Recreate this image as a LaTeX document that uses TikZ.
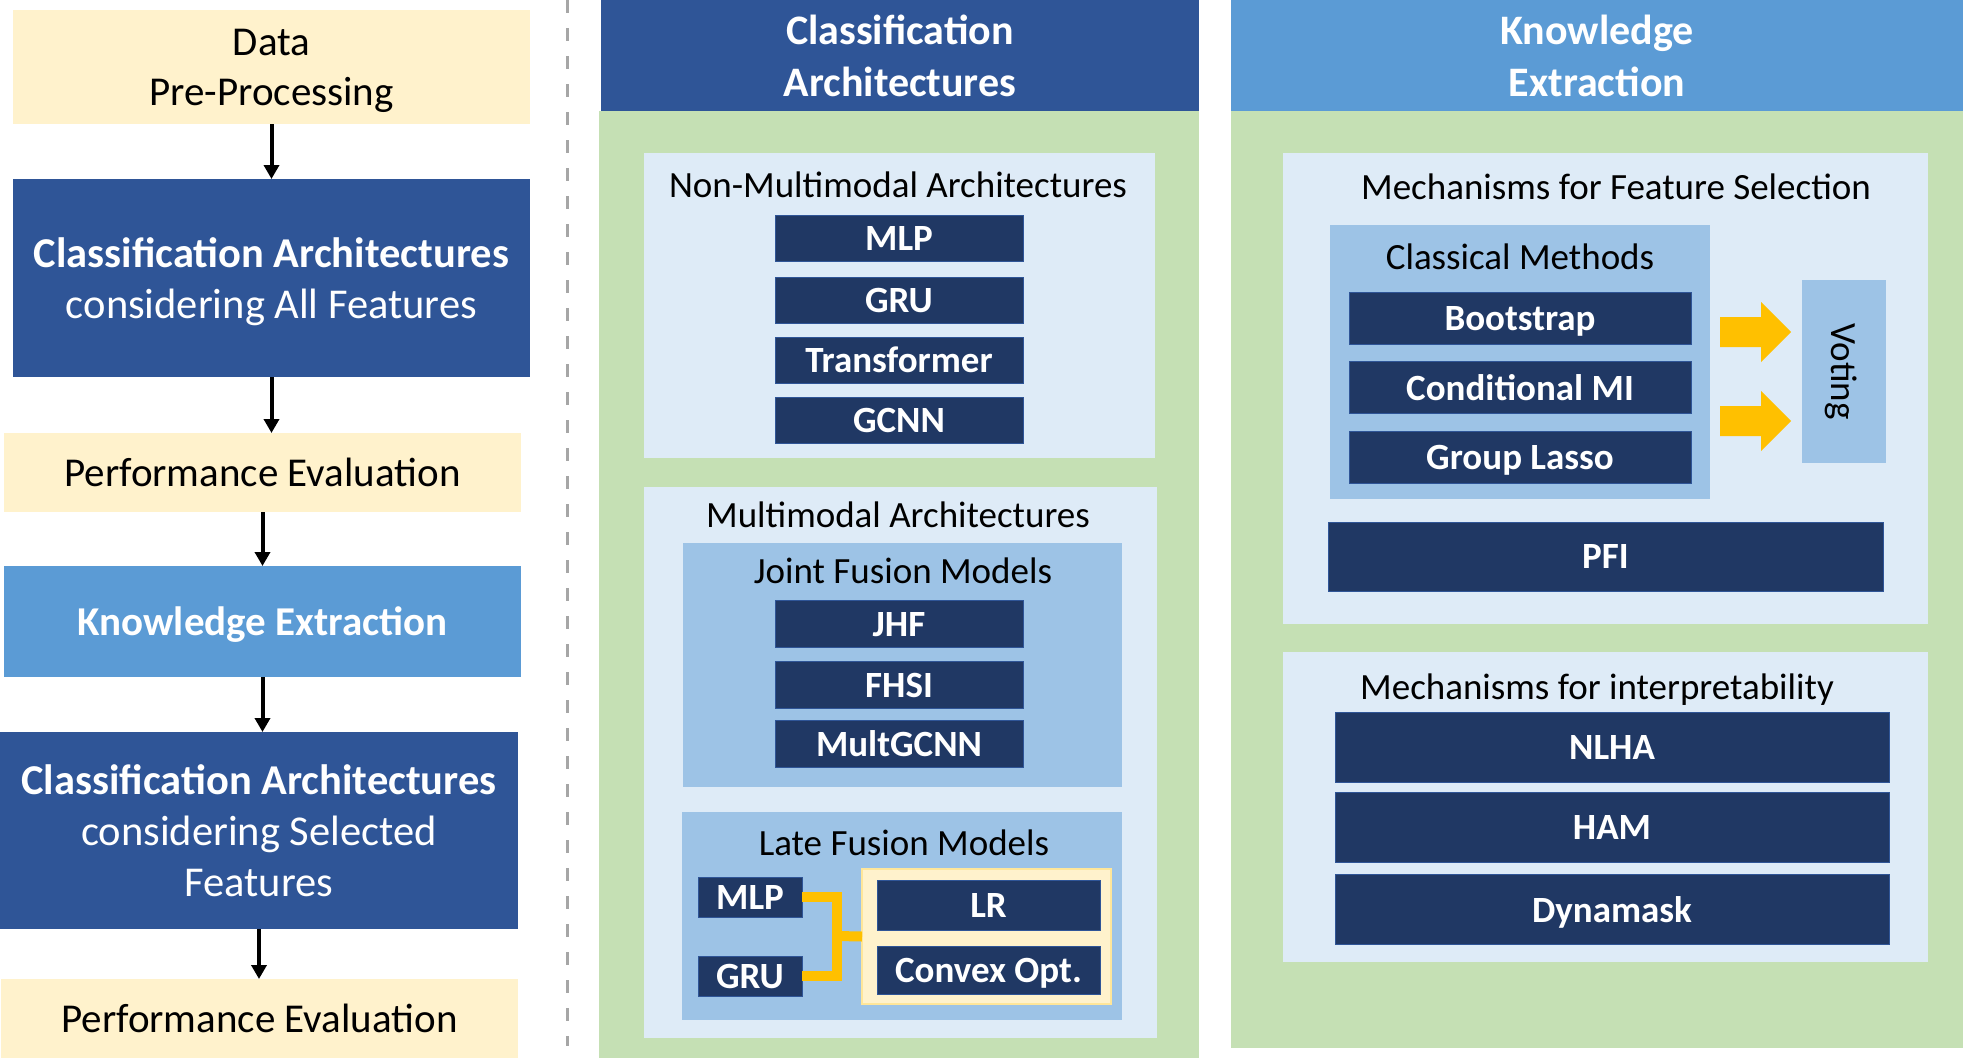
\documentclass[tikz,border=0pt]{standalone}
\usepackage{fontspec}
\setmainfont{Carlito}
\usetikzlibrary{arrows.meta}

\definecolor{cream}{HTML}{FFF2CC}
\definecolor{creamedge}{HTML}{FFE699}
\definecolor{darkblue}{HTML}{2F5597}
\definecolor{kblue}{HTML}{5B9BD5}
\definecolor{leaf}{HTML}{C5E0B4}
\definecolor{pale}{HTML}{DEEBF7}
\definecolor{mid}{HTML}{9DC3E6}
\definecolor{navyblue}{HTML}{203864}
\definecolor{gold}{HTML}{FFC000}

\tikzset{
  every node/.style={inner sep=0pt, outer sep=0pt, text depth=0pt},
  flow/.style={rectangle, align=center, minimum width=517, font=\fontsize{41}{50}\selectfont},
  beige/.style={flow, fill=cream, text=black},
  dark/.style={flow, fill=darkblue, text=white, font=\fontsize{42.5}{51}\selectfont},
  light/.style={flow, fill=kblue, text=white, font=\fontsize{41}{50}\selectfont\bfseries},
  head/.style={rectangle, align=center, text=white, font=\fontsize{42}{52}\selectfont\bfseries},
  caption/.style={rectangle, font=\fontsize{37}{44}\selectfont},
  modelbox/.style={rectangle, fill=navyblue, draw=darkblue, line width=1, text=white, font=\fontsize{37}{44}\selectfont\bfseries},
  arr/.style={-{Triangle[length=14pt,width=15pt]}, line width=4pt},
  goldline/.style={draw=gold, line width=10pt}
}

\begin{document}
\begin{tikzpicture}[x=1pt,y=-1pt]
\useasboundingbox (0,0) rectangle (1963,1058);

% workflow on the left
\node[beige, minimum height=114] (data) at (271.5,67) {Data\\Pre-Processing};
\node[dark, minimum height=198] (clsall) at (271.5,278) {{\bfseries Classification Architectures}\\considering All Features};
\node[beige, minimum height=79] (perfa) at (262.5,472.5) {Performance Evaluation};
\node[light, minimum height=111] (kea) at (262.5,621.5) {Knowledge Extraction};
\node[dark, minimum height=197, minimum width=518] (clssel) at (259,830.5) {{\bfseries Classification Architectures}\\considering Selected\\Features};
\node[beige, minimum height=79] (perfb) at (259.5,1018.5) {Performance Evaluation};

\draw[arr] (data) -- (clsall);
\draw[arr] (clsall.south) -- (clsall.south |- perfa.north);
\draw[arr] (perfa) -- (kea);
\draw[arr] (kea.south) -- (kea.south |- clssel.north);
\draw[arr] (clssel.south) -- (clssel.south |- perfb.north);

\draw[gray!70, line width=3pt, dash pattern=on 13pt off 15pt] (567,0) -- (567,1046);

% classification architectures
\node[head, fill=darkblue, minimum width=598, minimum height=111] (hdmid) at (900,55.5) {Classification\\Architectures};
\fill[leaf] (599,111) rectangle (1199,1058);

\fill[pale] (644,153) rectangle (1155,458);
\node[caption] (nonmm) at (898,185) {Non-Multimodal Architectures};
\foreach \name/\txt/\y in {mlpa/MLP/238, grua/GRU/300, trf/Transformer/360, gcnn/GCNN/420}
  \node[modelbox, minimum width=248, minimum height=46] (\name) at (899,\y) {\txt};

\fill[pale] (644,487) rectangle (1157,1038);
\node[caption] (mmtitle) at (898,515) {Multimodal Architectures};

\fill[mid] (683,543) rectangle (1122,787);
\node[caption] (joint) at (903,571) {Joint Fusion Models};
\foreach \name/\txt/\y in {jhf/JHF/624, fhsi/FHSI/685, multg/MultGCNN/744}
  \node[modelbox, minimum width=248, minimum height=47] (\name) at (899,\y) {\txt};

\fill[mid] (682,812) rectangle (1122,1020);
\node[caption] (late) at (904,843) {Late Fusion Models};
\node[modelbox, minimum width=104, minimum height=40] (mlpb) at (750,897) {MLP};
\node[modelbox, minimum width=104, minimum height=40] (grub) at (750,976) {GRU};
\node[rectangle, fill=cream, draw=creamedge, line width=2.5, minimum width=249, minimum height=135] (fuse) at (986.5,936.5) {};
\node[modelbox, minimum width=223, minimum height=50] (lr) at (988.5,905) {LR};
\node[modelbox, minimum width=223, minimum height=48] (cvx) at (988.5,970) {Convex Opt.};
\coordinate (jn) at (837,936);
\draw[goldline] (mlpb.east) -| (jn) |- (grub.east);
\draw[goldline] (jn) -- (fuse.west);

% knowledge extraction
\node[head, fill=kblue, minimum width=732, minimum height=111] (hdright) at (1597,55.5) {Knowledge\\Extraction};
\fill[leaf] (1231,111) rectangle (1963,1048);

\fill[pale] (1283,153) rectangle (1928,624);
\node[caption] (fstitle) at (1616,187) {Mechanisms for Feature Selection};
\fill[mid] (1330,225) rectangle (1710,499);
\node[caption] (classic) at (1520,257) {Classical Methods};
\foreach \name/\txt/\y in {boot/Bootstrap/318, cmi/Conditional MI/387.5, glasso/Group Lasso/457}
  \node[modelbox, minimum width=342, minimum height=52] (\name) at (1520,\y) {\txt};
\node[caption, fill=mid, rotate=-90, minimum width=183, minimum height=84] (vote) at (1844,371.5) {Voting};
\foreach \y in {332,421}
  \fill[gold, shift={(1720,\y)}] (0,-15) -- (41,-15) -- (41,-30) -- (71,0) -- (41,30) -- (41,15) -- (0,15) -- cycle;
\node[modelbox, minimum width=555, minimum height=69] (pfi) at (1605.5,556.5) {PFI};

\fill[pale] (1283,652) rectangle (1928,962);
\node[caption] (intitle) at (1597,687) {Mechanisms for interpretability};
\foreach \name/\txt/\y in {nlha/NLHA/747, ham/HAM/827, dyn/Dynamask/909.5}
  \node[modelbox, minimum width=554, minimum height=70] (\name) at (1612,\y) {\txt};

\end{tikzpicture}
\end{document}
